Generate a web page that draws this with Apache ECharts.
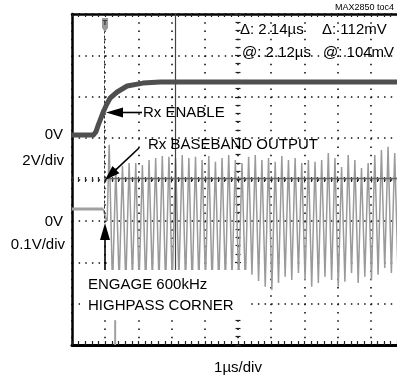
<!DOCTYPE html>
<html><head><meta charset="utf-8">
<script src="https://cdn.jsdelivr.net/npm/echarts@6/dist/echarts.min.js"></script>
<style>html,body{margin:0;padding:0;background:#fff}#c{width:397px;height:379px}</style>
</head><body><div id="c"></div>
<script>
// ---- data (time in µs relative to trigger, volts) ----
const rxTime = [-1, -0.36, -0.28, -0.21, -0.06, 0.05, 0.15, 0.36, 0.66, 1.14, 1.66, 9];
const rxVolt = [0, 0, 0.15, 0.48, 1.11, 1.50, 1.79, 2.08, 2.37, 2.51, 2.56, 2.56];

const bbPreTime = [-1, -0.06];
const bbPreVolt = [0.029, 0.029];

const bbTime = [-0.06, 0.02, 0.06,
  0.12, 0.22, 0.32, 0.42, 0.52, 0.62, 0.72, 0.82, 0.92, 1.02,
  1.12, 1.22, 1.32, 1.42, 1.52, 1.62, 1.72, 1.82, 1.92, 2.02,
  2.12, 2.22, 2.32, 2.42, 2.52, 2.62, 2.72, 2.82, 2.92, 3.02,
  3.12, 3.22, 3.32, 3.42, 3.52, 3.62, 3.72, 3.82, 3.92, 4.02,
  4.12, 4.22, 4.32, 4.42, 4.52, 4.62, 4.72, 4.82, 4.92, 5.02,
  5.12, 5.22, 5.32, 5.42, 5.52, 5.62, 5.72, 5.82, 5.92, 6.02,
  6.12, 6.22, 6.32, 6.42, 6.52, 6.62, 6.72, 6.82, 6.92, 7.02,
  7.12, 7.22, 7.32, 7.42, 7.52, 7.62, 7.72, 7.82, 7.92, 8.02,
  8.12, 8.22, 8.32, 8.42, 8.52, 8.62, 8.72, 8.82];
const bbVolt = [0.029, 0.005, 0.0,
  0.184, -0.16, 0.128, -0.15, 0.133, -0.155, 0.140, -0.14, 0.140, -0.15,
  0.135, -0.16, 0.147, -0.145, 0.152, -0.15, 0.157, -0.16, 0.155, -0.155,
  0.152, -0.14, 0.159, -0.15, 0.152, -0.16, 0.155, -0.15, 0.147, -0.145,
  0.157, -0.155, 0.143, -0.16, 0.152, -0.15, 0.159, -0.14, 0.147, -0.15,
  0.140, -0.155, 0.155, -0.130, 0.159, -0.145, 0.147, -0.159, 0.152, -0.167,
  0.143, -0.150, 0.157, -0.135, 0.147, -0.143, 0.152, -0.126, 0.140, -0.143,
  0.147, -0.159, 0.143, -0.150, 0.147, -0.135, 0.164, -0.143, 0.152, -0.159,
  0.130, -0.147, 0.159, -0.126, 0.147, -0.150, 0.128, -0.135, 0.140, -0.143,
  0.159, -0.130, 0.171, -0.114, 0.179, -0.126, 0.164, -0.130];

const glitchTime = [0.3, 0.3];
const glitchVolt = [-0.24, -0.3];

const cursorTime = [-0.02, 2.12];   // µs
const cursorVolt = [0.104];         // V (baseband)

const scaleLabels = ['0V', '2V/div', '0V', '0.1V/div'];
const readout = ['\u0394: 2.14\u00b5s', '\u0394: 112mV', '@: 2.12\u00b5s', '@: 104mV'];
const timeLabel = '1\u00b5s/div';

// ---- chart ----
const FONT = '"Liberation Sans", Arial, sans-serif';
const chart = echarts.init(document.getElementById('c'), null, {renderer: 'canvas'});
const zip = (a, b) => a.map((v, i) => [v, b[i]]);

const hGrid = {color: '#111', width: 1.6, type: [1.5, 5.14]};
const vGrid = {color: '#111', width: 1.6, type: [1.5, 6.775]};
const tickStyle = {color: '#222', width: 1.2};
const xBase = {type: 'value', min: -1, max: 9, interval: 1, axisLabel: {show: false}};
const yDiv = {type: 'value', min: 0, max: 8, interval: 1, axisLabel: {show: false}};

function txt(x, y, s, size, align, extra) {
  return Object.assign({type: 'text', x: x, y: y, z: 120,
    style: {text: s, font: (size || 15) + 'px ' + FONT, fill: '#000',
      textAlign: align || 'left', textVerticalAlign: 'middle'}}, extra || {});
}
function arrow(x1, y1, x2, y2, len, w) {
  const dx = x2 - x1, dy = y2 - y1, L = Math.hypot(dx, dy);
  const ux = dx / L, uy = dy / L, px = -uy, py = ux;
  const bx = x2 - ux * len, by = y2 - uy * len;
  return [
    {type: 'line', z: 110, shape: {x1: x1, y1: y1, x2: bx + ux, y2: by + uy}, style: {stroke: '#000', lineWidth: 1.6}},
    {type: 'polygon', z: 110, shape: {points: [[x2, y2], [bx + px * w / 2, by + py * w / 2], [bx - px * w / 2, by - py * w / 2]]}, style: {fill: '#000'}}
  ];
}

const graphics = [
  {type: 'rect', z: 100, shape: {x: 80, y: 270, width: 167, height: 48}, style: {fill: '#fff'}},
  {type: 'polygon', z: 110, shape: {points: [[102, 18], [108, 18], [108, 28], [105, 32], [102, 28]]}, style: {fill: '#9a9a9a'}},
  txt(105, 23, 'T', 8, 'center', {style: {text: 'T', font: 'bold 8px ' + FONT, fill: '#333', textAlign: 'center', textVerticalAlign: 'middle'}}),
  txt(335, 8, 'MAX2850 toc4', 9),
  txt(240, 30, readout[0]), txt(322, 30, readout[1]),
  txt(242, 53, readout[2]), txt(323, 53, readout[3]),
  txt(143, 113, 'Rx ENABLE'),
  txt(148, 145, 'Rx BASEBAND OUTPUT'),
  txt(63, 135, scaleLabels[0], 15, 'right'),
  txt(64, 161, scaleLabels[1], 15, 'right'),
  txt(63, 222, scaleLabels[2], 15, 'right'),
  txt(65, 245, scaleLabels[3], 15, 'right'),
  txt(88, 285, 'ENGAGE 600kHz'),
  txt(88, 306, 'HIGHPASS CORNER'),
  txt(238, 368, timeLabel, 15, 'center')
].concat(arrow(142, 112.5, 106, 112.5, 17, 10))
 .concat(arrow(139, 148, 105, 180, 15, 10))
 .concat(arrow(105, 270, 105, 223, 17, 10));

chart.setOption({
  animation: false,
  backgroundColor: '#fff',
  grid: {left: 72, top: 14, width: 332, height: 331, containLabel: false, outerBoundsMode: 'none'},
  xAxis: [
    Object.assign({}, xBase, {position: 'bottom',
      axisLine: {onZero: false, lineStyle: {color: '#000', width: 3}},
      axisTick: {show: true, inside: true, length: 4, lineStyle: tickStyle},
      minorTick: {show: true, splitNumber: 5, length: 4, lineStyle: tickStyle},
      splitLine: {show: true, lineStyle: vGrid}}),
    Object.assign({}, xBase, {position: 'top',
      axisLine: {onZero: false, lineStyle: {color: '#000', width: 2.5}},
      axisTick: {show: true, inside: true, length: 3, lineStyle: tickStyle},
      minorTick: {show: true, splitNumber: 5, length: 3, lineStyle: tickStyle},
      splitLine: {show: false}}),
    Object.assign({}, xBase, {position: 'bottom', offset: -165.5,
      axisLine: {show: false, onZero: false},
      axisTick: {show: true, inside: true, length: 3, lineStyle: tickStyle},
      minorTick: {show: true, splitNumber: 5, length: 2.5, lineStyle: tickStyle},
      splitLine: {show: false}}),
    Object.assign({}, xBase, {position: 'bottom', offset: -165.5,
      axisLine: {show: false, onZero: false},
      axisTick: {show: true, inside: false, length: 3, lineStyle: tickStyle},
      minorTick: {show: true, splitNumber: 5, length: 2.5, lineStyle: tickStyle},
      splitLine: {show: false}})
  ],
  yAxis: [
    Object.assign({}, yDiv, {position: 'left',
      axisLine: {show: true, onZero: false, lineStyle: {color: '#000', width: 2.5}},
      axisTick: {show: false},
      splitLine: {show: true, lineStyle: hGrid}}),
    Object.assign({}, yDiv, {position: 'left', offset: -166,
      axisLine: {show: false, onZero: false},
      axisTick: {show: true, inside: true, length: 3, lineStyle: tickStyle},
      minorTick: {show: true, splitNumber: 5, length: 2.5, lineStyle: tickStyle},
      splitLine: {show: false}}),
    Object.assign({}, yDiv, {position: 'left', offset: -166,
      axisLine: {show: false, onZero: false},
      axisTick: {show: true, inside: false, length: 3, lineStyle: tickStyle},
      minorTick: {show: true, splitNumber: 5, length: 2.5, lineStyle: tickStyle},
      splitLine: {show: false}}),
    {type: 'value', min: -10.15, max: 5.85, show: false},
    {type: 'value', min: -0.3, max: 0.5, show: false}
  ],
  series: [
    {type: 'line', name: 'cursors', xAxisIndex: 0, yAxisIndex: 0, data: [], z: 4,
      markLine: {silent: true, symbol: ['none', 'none'], label: {show: false}, animation: false,
        data: [
          [{coord: [cursorTime[0], 7.6], lineStyle: {color: '#333', width: 1, type: [3, 2]}}, {coord: [cursorTime[0], 2.95]}],
          [{coord: [cursorTime[1], 8], lineStyle: {color: '#444', width: 1.2, type: 'solid'}}, {coord: [cursorTime[1], 1.8]}]
        ]}},
    {type: 'line', name: 'Rx BASEBAND pre', xAxisIndex: 0, yAxisIndex: 4, data: zip(bbPreTime, bbPreVolt),
      showSymbol: false, lineStyle: {color: '#a0a0a0', width: 3}, z: 3},
    {type: 'line', name: 'Rx BASEBAND OUTPUT', xAxisIndex: 0, yAxisIndex: 4, data: zip(bbTime, bbVolt),
      showSymbol: false, lineStyle: {color: '#9a9a9a', width: 1.5}, z: 3,
      markLine: {silent: true, symbol: ['none', 'none'], label: {show: false}, animation: false,
        data: [[{coord: [cursorTime[0], cursorVolt[0]], lineStyle: {color: '#666', width: 1.3, type: 'solid'}}, {coord: [9, cursorVolt[0]]}]]}},
    {type: 'line', name: 'glitch', xAxisIndex: 0, yAxisIndex: 4, data: zip(glitchTime, glitchVolt),
      showSymbol: false, lineStyle: {color: '#a0a0a0', width: 2}, z: 3},
    {type: 'line', name: 'Rx ENABLE', xAxisIndex: 0, yAxisIndex: 3, data: zip(rxTime, rxVolt),
      showSymbol: false, smooth: false, lineStyle: {color: '#4f4f4f', width: 5, join: 'round'}, z: 5}
  ],
  graphic: graphics
});
</script></body></html>
